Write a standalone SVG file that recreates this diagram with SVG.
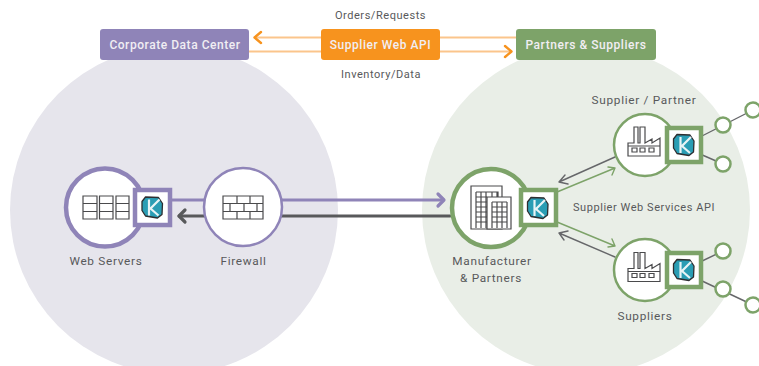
<svg xmlns="http://www.w3.org/2000/svg" xmlns:xlink="http://www.w3.org/1999/xlink" width="759" height="366" viewBox="0 0 759 366">
<style>
text{font-family:"Roboto","Liberation Sans",sans-serif;font-size:11.8px;fill:#58595b;letter-spacing:.7px;text-anchor:middle}
.hd{fill:#f1eef3;font-weight:500;font-size:12px;letter-spacing:.55px}
.sm{font-size:11px;letter-spacing:.55px}
.pu{stroke:#8f84b8}.gr{stroke:#7da369}
.ci{fill:#fff}
.box{fill:#fff;stroke-width:4.5}
.ic{fill:none;stroke:#4a4a4c;stroke-width:1.200}
.ln{fill:none;stroke-linecap:round;stroke-linejoin:round}
</style>
<defs>
<g id="k">
<path d="M-7-10.500 6-10 10-4 9.500 7 5 10.500-7 8.500-10.500 3-10.500-6Z" fill="#2a9db4" stroke="#2e2e30" stroke-width="1.300" stroke-linejoin="round"/>
<path d="M-3.500-8V8M7-8-2 1 6 8" fill="none" stroke="#e8f4f6" stroke-width="2.200"/>
</g>
<g id="factory">
<path class="ic" d="M-16 15V2H-10V-14H-6V2H-4V-14H1V2L8-2V2L16-3V15ZM-16 5H16"/>
<path class="ic" d="M-12 7H-7V11H-12ZM-4 7H1V11H-4ZM5 7H10V11H5Z"/>
</g>
</defs>
<circle cx="174" cy="210" r="164" fill="#e6e5ec"/>
<circle cx="586" cy="210" r="164" fill="#e9eee7"/>
<g id="connectors">
<path class="ln" stroke="#fbc58c" stroke-width="2.200" d="M255 37.500H321M249 51.500H321M440 37.500H516M440 51.500H510"/>
<path class="ln" stroke="#f7931e" stroke-width="2.400" d="M261 32 254.500 37.500 261 43M505 46 511.500 51.500 505 57"/>
<path class="ln" stroke="#8f84b8" stroke-width="3" d="M172 200H443"/>
<path class="ln" stroke="#8f84b8" stroke-width="3.200" d="M438 194 444 200 438 206"/>
<path class="ln" stroke="#58595b" stroke-width="3" d="M179 216H450"/>
<path class="ln" stroke="#58595b" stroke-width="3.200" d="M185 210 179 216 185 222"/>
<path class="ln" stroke="#66676a" stroke-width="1.400" d="M615 157 559 182M565 175 559 182 568 184M615 257 559 233M568 231 559 233 564 240M700 137 753 110M700 154 723 164M700 262 723 251M700 280 753 305"/>
<path class="ln" stroke="#7da369" stroke-width="1.400" d="M557 192 615 168M608 167 615 168 612 175M557 222 615 246M612 239 615 246 608 247"/>
</g>
<g id="corporate-data-center"><rect x="100" y="29" width="149" height="31" rx="3" fill="#8f84b8"/><text class="hd" x="175" y="48.500">Corporate Data Center</text></g>
<g id="supplier-web-api"><rect x="321" y="29" width="119" height="31" rx="3" fill="#f7931e"/><text class="hd" x="380.500" y="48.500">Supplier Web API</text></g>
<g id="partners-suppliers"><rect x="516" y="29" width="140" height="31" rx="3" fill="#7da369"/><text class="hd" x="586" y="48.500">Partners &amp; Suppliers</text></g>
<text class="sm" x="380.500" y="19">Orders/Requests</text>
<text class="sm" x="381" y="78">Inventory/Data</text>
<text class="sm" x="644" y="211">Supplier Web Services API</text>
<g id="web-servers">
<circle class="ci pu" cx="105" cy="207.500" r="39" stroke-width="4.500"/>
<path class="ic" stroke-width="1.500" d="M83 196H97V219H83ZM83 203.500H97M83 211.500H97M99.500 196H113V219H99.500ZM99.500 203.500H113M99.500 211.500H113M116 196H129V219H116ZM116 203.500H129M116 211.500H129"/>
<rect class="box pu" x="135" y="190" width="35" height="35"/><use xlink:href="#k" href="#k" x="152.500" y="207.500"/>
<text x="106" y="265">Web Servers</text>
</g>
<g id="firewall">
<circle class="ci pu" cx="243" cy="207" r="39" stroke-width="2.500"/>
<path class="ic" stroke-width="1.400" d="M223 196H263V219H223ZM223 203.500H263M223 211.500H263M237 196V203.500M250 196V203.500M230 203.500V211.500M244 203.500V211.500M257 203.500V211.500M237 211.500V219M250 211.500V219"/>
<text x="243.500" y="265">Firewall</text>
</g>
<g id="manufacturer-partners">
<circle class="ci gr" cx="491" cy="208" r="39" stroke-width="4.500"/>
<path class="ic" stroke-width="1.200" d="M471 186H502V229H471Z"/>
<path d="M487 197H511V229H487Z" fill="#fff" stroke="#4a4a4c" stroke-width="1.200"/>
<path class="ic" stroke-width=".9" d="M476 192H487M476 197H487M476 202H487M476 207H487M476 212H487M476 217H487M476 222H487M476 192V228M481 192V228M486 192V228M487 192H498V197M492 192V197M497 192V197M492 202H507M492 207H507M492 212H507M492 217H507M492 222H507M492 202V228M497 202V228M502 202V228M507 202V228"/>
<rect class="box gr" x="521" y="190" width="35" height="35"/><use xlink:href="#k" href="#k" x="538" y="208"/>
<text x="492" y="265">Manufacturer</text><text x="491" y="282">&amp; Partners</text>
</g>
<g id="supplier-partner">
<circle class="ci gr" cx="645" cy="145" r="31" stroke-width="2.500"/>
<use xlink:href="#factory" href="#factory" x="644" y="141"/>
<rect class="box gr" x="667" y="128" width="34" height="34"/><use xlink:href="#k" href="#k" x="684" y="145"/>
<text x="644" y="104">Supplier / Partner</text>
<circle class="ci gr" cx="723" cy="125" r="7.500" stroke-width="2.500"/><circle class="ci gr" cx="723" cy="164" r="7.500" stroke-width="2.500"/><circle class="ci gr" cx="753" cy="110" r="7.500" stroke-width="2.500"/>
</g>
<g id="suppliers">
<circle class="ci gr" cx="645" cy="270" r="31" stroke-width="2.500"/>
<use xlink:href="#factory" href="#factory" x="644" y="266.500"/>
<rect class="box gr" x="667" y="253" width="34" height="34"/><use xlink:href="#k" href="#k" x="684" y="270"/>
<text x="645" y="320">Suppliers</text>
<circle class="ci gr" cx="723" cy="251" r="7.500" stroke-width="2.500"/><circle class="ci gr" cx="723" cy="289" r="7.500" stroke-width="2.500"/><circle class="ci gr" cx="753" cy="305" r="7.500" stroke-width="2.500"/>
</g>
</svg>
